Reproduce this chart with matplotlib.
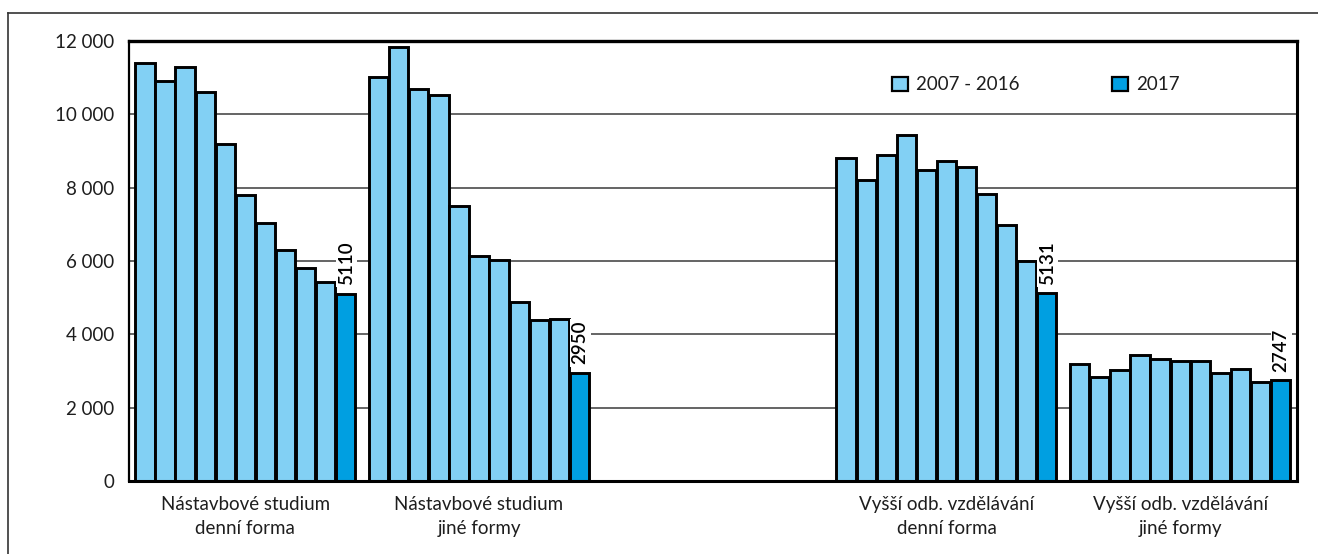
import matplotlib
matplotlib.use("Agg")
import matplotlib.pyplot as plt
from matplotlib.patches import Patch
from matplotlib.lines import Line2D

# ---- data ----
categories = ["Nástavbové studium\ndenní forma",
              "Nástavbové studium\njiné formy",
              "",
              "Vyšší odb. vzdělávání\ndenní forma",
              "Vyšší odb. vzdělávání\njiné formy"]
years = ["2007", "2008", "2009", "2010", "2011", "2012",
         "2013", "2014", "2015", "2016", "2017"]
nastavbove_denni = [11410, 10910, 11290, 10610, 9180, 7790, 7040, 6310, 5820, 5435, 5110]
nastavbove_jine = [11010, 11830, 10690, 10530, 7510, 6140, 6020, 4870, 4400, 4420, 2950]
vos_denni = [8800, 8200, 8880, 9440, 8480, 8720, 8560, 7830, 6970, 6010, 5131]
vos_jine = [3200, 2830, 3030, 3440, 3330, 3280, 3280, 2950, 3045, 2710, 2747]
groups = [nastavbove_denni, nastavbove_jine, None, vos_denni, vos_jine]
yticks = [0, 2000, 4000, 6000, 8000, 10000, 12000]
ytick_labels = ["0", "2 000", "4 000", "6 000", "8 000", "10 000", "12 000"]
legend_labels = ["2007 - 2016", "2017"]

LIGHT = "#82D0F4"
DARK = "#009FE1"
FONT = ["Lato", "DejaVu Sans"]
TXT = "#1e1e1e"

plt.rcParams["font.family"] = FONT

W, H = 1318, 554
fig = plt.figure(figsize=(W / 100, H / 100), dpi=100)
ax = fig.add_axes([128.5 / W, 1 - 481 / H, (1297 - 128.5) / W, (481 - 41) / H])

gw = 0.945
n = len(years)
bw = gw / n
for i, vals in enumerate(groups):
    if vals is None:
        continue
    xs = [i - gw / 2 + (j + 0.5) * bw for j in range(n)]
    cols = [LIGHT] * (n - 1) + [DARK]
    ax.bar(xs, vals, width=bw * 0.96, color=cols, edgecolor="black",
           linewidth=2.1, zorder=3)
    ax.annotate(f"{vals[-1]}", xy=(xs[-1], vals[-1]), xytext=(0.5, 6),
                textcoords="offset points", rotation=90, ha="center",
                va="bottom", fontsize=13.5, color="black", family=FONT,
                fontweight="semibold",
                bbox=dict(facecolor="white", edgecolor="none", pad=1.5),
                zorder=4)

ax.set_xlim(-0.5, len(categories) - 0.5)
ax.set_ylim(0, 12000)
ax.set_yticks(yticks)
ax.set_yticklabels(ytick_labels, fontsize=13.5, color=TXT, fontweight="normal")
ax.set_xticks(range(len(categories)))
ax.set_xticklabels(categories, fontsize=13.5, color=TXT, fontweight="normal",
                   linespacing=1.45)
ax.tick_params(axis="y", length=0, pad=10)
ax.tick_params(axis="x", length=0, pad=11)
ax.yaxis.grid(True, color="#3a3a3a", linewidth=1.1, zorder=0)
ax.set_axisbelow(True)
for side, lw in (("top", 2.4), ("bottom", 2.2), ("left", 1.6), ("right", 2.2)):
    ax.spines[side].set_linewidth(lw)
    ax.spines[side].set_color("black")
    ax.spines[side].set_zorder(5)

handles = [Patch(facecolor=LIGHT, edgecolor="black", linewidth=1.6),
           Patch(facecolor=DARK, edgecolor="black", linewidth=1.6)]
leg = ax.legend(handles, legend_labels, ncol=2, loc="center left",
                bbox_to_anchor=((899 - 128.5) / (1297 - 128.5) - 0.006, (481 - 85) / 440),
                frameon=False, handlelength=0.85, handleheight=0.85,
                handletextpad=0.45, columnspacing=4.9, borderaxespad=0,
                borderpad=0, prop={"family": FONT, "weight": "normal", "size": 13.5})
for t in leg.get_texts():
    t.set_color(TXT)

# outer frame (partly cropped in the reference)
fig.add_artist(Line2D([8 / W, 1.0], [1 - 13 / H, 1 - 13 / H], transform=fig.transFigure,
                      color="#333333", linewidth=1.2))
fig.add_artist(Line2D([8 / W, 8 / W], [0, 1 - 13 / H], transform=fig.transFigure,
                      color="#333333", linewidth=1.2))

fig.savefig("out.png", dpi=100)
